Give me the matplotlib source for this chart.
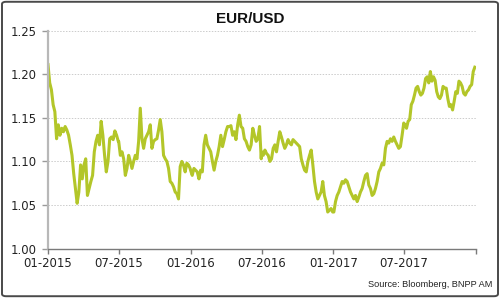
import matplotlib
matplotlib.use("Agg")
import matplotlib.pyplot as plt
from matplotlib.patches import FancyBboxPatch
import pandas as pd

# EUR/USD, one list per half-year
eurusd_2015h1 = [1.211, 1.190, 1.182, 1.165, 1.157, 1.126, 1.142, 1.130, 1.138, 1.134,
                 1.140, 1.136, 1.130, 1.119, 1.107, 1.086, 1.069, 1.052, 1.065, 1.096,
                 1.080, 1.096, 1.103, 1.061, 1.069, 1.077, 1.084, 1.111, 1.123, 1.130,
                 1.119, 1.146, 1.130, 1.107, 1.088, 1.100, 1.126, 1.128, 1.125, 1.135,
                 1.130, 1.123]
eurusd_2015h2 = [1.123, 1.107, 1.111, 1.103, 1.084, 1.092, 1.107, 1.100, 1.092, 1.100,
                 1.107, 1.103, 1.123, 1.161, 1.126, 1.115, 1.126, 1.130, 1.134, 1.142,
                 1.115, 1.123, 1.125, 1.126, 1.136, 1.148, 1.134, 1.107, 1.103, 1.100,
                 1.092, 1.077, 1.075, 1.071, 1.065, 1.063, 1.057, 1.094, 1.100, 1.096,
                 1.088, 1.098, 1.096, 1.092]
eurusd_2016h1 = [1.090, 1.084, 1.092, 1.090, 1.088, 1.080, 1.090, 1.088, 1.119, 1.130,
                 1.119, 1.115, 1.111, 1.100, 1.090, 1.100, 1.107, 1.117, 1.130, 1.117,
                 1.125, 1.134, 1.140, 1.140, 1.141, 1.130, 1.134, 1.125, 1.142, 1.153,
                 1.140, 1.138, 1.126, 1.123, 1.117, 1.113, 1.119, 1.138, 1.130, 1.123,
                 1.126, 1.140, 1.103]
eurusd_2016h2 = [1.111, 1.107, 1.113, 1.109, 1.107, 1.100, 1.103, 1.115, 1.119, 1.111,
                 1.123, 1.134, 1.128, 1.121, 1.115, 1.119, 1.125, 1.121, 1.119, 1.125,
                 1.123, 1.121, 1.119, 1.117, 1.103, 1.096, 1.090, 1.088, 1.100, 1.107,
                 1.113, 1.096, 1.077, 1.065, 1.057, 1.061, 1.065, 1.077, 1.061, 1.054,
                 1.042, 1.044, 1.046, 1.042]
eurusd_2017h1 = [1.042, 1.054, 1.061, 1.065, 1.071, 1.077, 1.075, 1.079, 1.077, 1.071,
                 1.065, 1.061, 1.057, 1.061, 1.054, 1.059, 1.065, 1.069, 1.077, 1.084,
                 1.086, 1.073, 1.069, 1.061, 1.063, 1.069, 1.077, 1.088, 1.092, 1.098,
                 1.096, 1.115, 1.123, 1.121, 1.126, 1.123, 1.128, 1.123, 1.119, 1.115,
                 1.117, 1.130, 1.144]
eurusd_2017h2 = [1.142, 1.138, 1.146, 1.148, 1.165, 1.169, 1.176, 1.184, 1.186, 1.180,
                 1.176, 1.178, 1.184, 1.195, 1.197, 1.190, 1.203, 1.192, 1.197, 1.193,
                 1.180, 1.174, 1.172, 1.176, 1.186, 1.184, 1.184, 1.172, 1.163, 1.165,
                 1.159, 1.169, 1.180, 1.178, 1.192, 1.190, 1.186, 1.178, 1.176, 1.180,
                 1.182, 1.186, 1.188, 1.203, 1.208]

halves = [("2015-01-01", "2015-06-30", eurusd_2015h1),
          ("2015-07-01", "2015-12-31", eurusd_2015h2),
          ("2016-01-01", "2016-06-30", eurusd_2016h1),
          ("2016-07-01", "2016-12-30", eurusd_2016h2),
          ("2017-01-02", "2017-06-30", eurusd_2017h1),
          ("2017-07-03", "2017-12-29", eurusd_2017h2)]

dates = []
values = []
for start, end, vals in halves:
    dates.extend(pd.date_range(start, end, periods=len(vals)))
    values.extend(vals)

y_ticks = [1.00, 1.05, 1.10, 1.15, 1.20, 1.25]
x_ticks = ["2015-01-01", "2015-07-01", "2016-01-01", "2016-07-01",
           "2017-01-01", "2017-07-01", "2018-01-01"]
x_labels = ["01-2015", "07-2015", "01-2016", "07-2016", "01-2017", "07-2017", ""]

fig = plt.figure(figsize=(5, 2.98), dpi=100)
ax = fig.add_axes([0.096, 0.1655, 0.856, 0.732])

ax.plot(dates, values, color="#b3c629", lw=2.2, solid_joinstyle="round")

ax.set_xlim(pd.Timestamp("2015-01-01"), pd.Timestamp("2018-01-01"))
ax.set_ylim(1.00, 1.25)
ax.set_yticks(y_ticks)
ax.set_yticklabels([f"{v:.2f}" for v in y_ticks])
ax.set_xticks([pd.Timestamp(d) for d in x_ticks])
ax.set_xticklabels(x_labels)

ax.grid(axis="y", color="#cccccc", linestyle=(0, (1.5, 1.5)), lw=0.7)
ax.set_axisbelow(True)

for side in ["top", "right"]:
    ax.spines[side].set_visible(False)
ax.spines["left"].set_color("#b8b8b8")
ax.spines["left"].set_linewidth(1.6)
ax.spines["bottom"].set_color("#7a7a7a")
ax.spines["bottom"].set_linewidth(1.0)

ax.tick_params(axis="y", length=4, width=1, color="#9a9a9a", pad=4,
               labelsize=8.4, labelcolor="#222222")
ax.tick_params(axis="x", length=3.5, width=1, color="#7a7a7a", pad=2.5,
               labelsize=8.4, labelcolor="#222222")

fig.text(0.5, 0.937, "EUR/USD", ha="center", va="center", fontsize=11,
         fontweight="bold", family="Liberation Sans", color="#111111")
fig.text(0.984, 0.045, "Source: Bloomberg, BNPP AM", ha="right", va="center",
         fontsize=6.6, family="Liberation Sans", color="#222222")

border = FancyBboxPatch((0.004, 0.006), 0.992, 0.988, transform=fig.transFigure,
                        boxstyle="round,pad=0,rounding_size=0.008",
                        fill=False, edgecolor="#4a4a4a", lw=1.4)
fig.patches.append(border)

fig.savefig("out.png", dpi=100)
